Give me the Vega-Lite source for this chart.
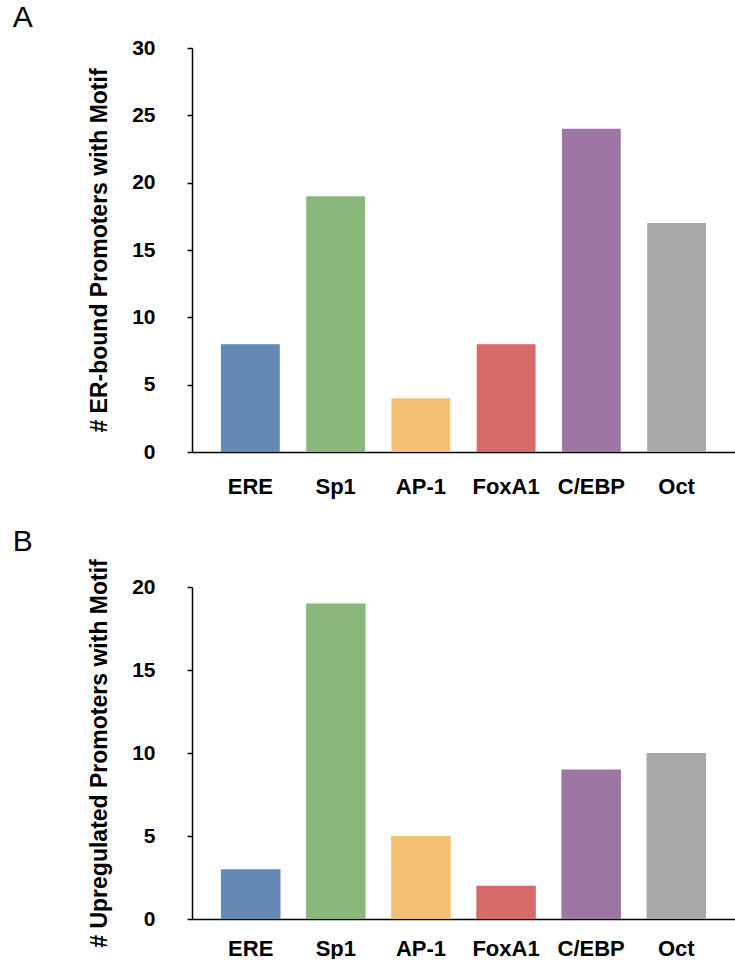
{
  "$schema": "https://vega.github.io/schema/vega-lite/v6.json",
  "padding": {"left": 12, "top": 3, "right": 0, "bottom": 0},
  "background": "white",
  "config": {
    "font": "Liberation Sans",
    "view": {"stroke": null},
    "axis": {"domainColor": "#000", "tickColor": "#000", "labelColor": "#000", "titleColor": "#000", "grid": false, "domainWidth": 1.5, "tickWidth": 1.5},
    "title": {"fontSize": 30, "fontWeight": "normal", "anchor": "start", "frame": "bounds", "color": "#000"}
  },
  "spacing": 29,
  "vconcat": [
    {
      "title": {"text": "A", "dx": -76, "offset": 4},
      "width": 543,
      "height": 404,
      "data": {"values": [
        {"motif": "ERE", "count": 8},
        {"motif": "Sp1", "count": 19},
        {"motif": "AP-1", "count": 4},
        {"motif": "FoxA1", "count": 8},
        {"motif": "C/EBP", "count": 24},
        {"motif": "Oct", "count": 17}
      ]},
      "mark": {"type": "bar"},
      "encoding": {
        "x": {"field": "motif", "type": "nominal", "sort": null,
          "scale": {"paddingInner": 0.31, "paddingOuter": 0.34},
          "axis": {"title": null, "labelAngle": 0, "labelFontSize": 22, "labelFontWeight": "bold", "ticks": false, "labelPadding": 24}},
        "y": {"field": "count", "type": "quantitative",
          "scale": {"domain": [0, 30]},
          "axis": {"values": [0, 5, 10, 15, 20, 25, 30], "title": "# ER-bound Promoters with Motif", "titleFontSize": 23, "titleFontWeight": "bold", "labelFontSize": 21, "labelFontWeight": "bold", "tickSize": 5, "labelPadding": 32, "titlePadding": 20}},
        "color": {"field": "motif", "type": "nominal", "legend": null,
          "scale": {"domain": ["ERE", "Sp1", "AP-1", "FoxA1", "C/EBP", "Oct"], "range": ["#6389B5", "#8AB87A", "#F2C071", "#D66A67", "#9D76A3", "#A8A8A8"]}}
      }
    },
    {
      "title": {"text": "B", "dx": -76, "offset": 2},
      "width": 543,
      "height": 332,
      "data": {"values": [
        {"motif": "ERE", "count": 3},
        {"motif": "Sp1", "count": 19},
        {"motif": "AP-1", "count": 5},
        {"motif": "FoxA1", "count": 2},
        {"motif": "C/EBP", "count": 9},
        {"motif": "Oct", "count": 10}
      ]},
      "mark": {"type": "bar"},
      "encoding": {
        "x": {"field": "motif", "type": "nominal", "sort": null,
          "scale": {"paddingInner": 0.3, "paddingOuter": 0.34},
          "axis": {"title": null, "labelAngle": 0, "labelFontSize": 22, "labelFontWeight": "bold", "ticks": false, "labelPadding": 19}},
        "y": {"field": "count", "type": "quantitative",
          "scale": {"domain": [0, 20]},
          "axis": {"values": [0, 5, 10, 15, 20], "title": "# Upregulated Promoters with Motif", "titleFontSize": 23, "titleFontWeight": "bold", "labelFontSize": 21, "labelFontWeight": "bold", "tickSize": 5, "labelPadding": 32, "titlePadding": 20}},
        "color": {"field": "motif", "type": "nominal", "legend": null,
          "scale": {"domain": ["ERE", "Sp1", "AP-1", "FoxA1", "C/EBP", "Oct"], "range": ["#6389B5", "#8AB87A", "#F2C071", "#D66A67", "#9D76A3", "#A8A8A8"]}}
      }
    }
  ]
}
